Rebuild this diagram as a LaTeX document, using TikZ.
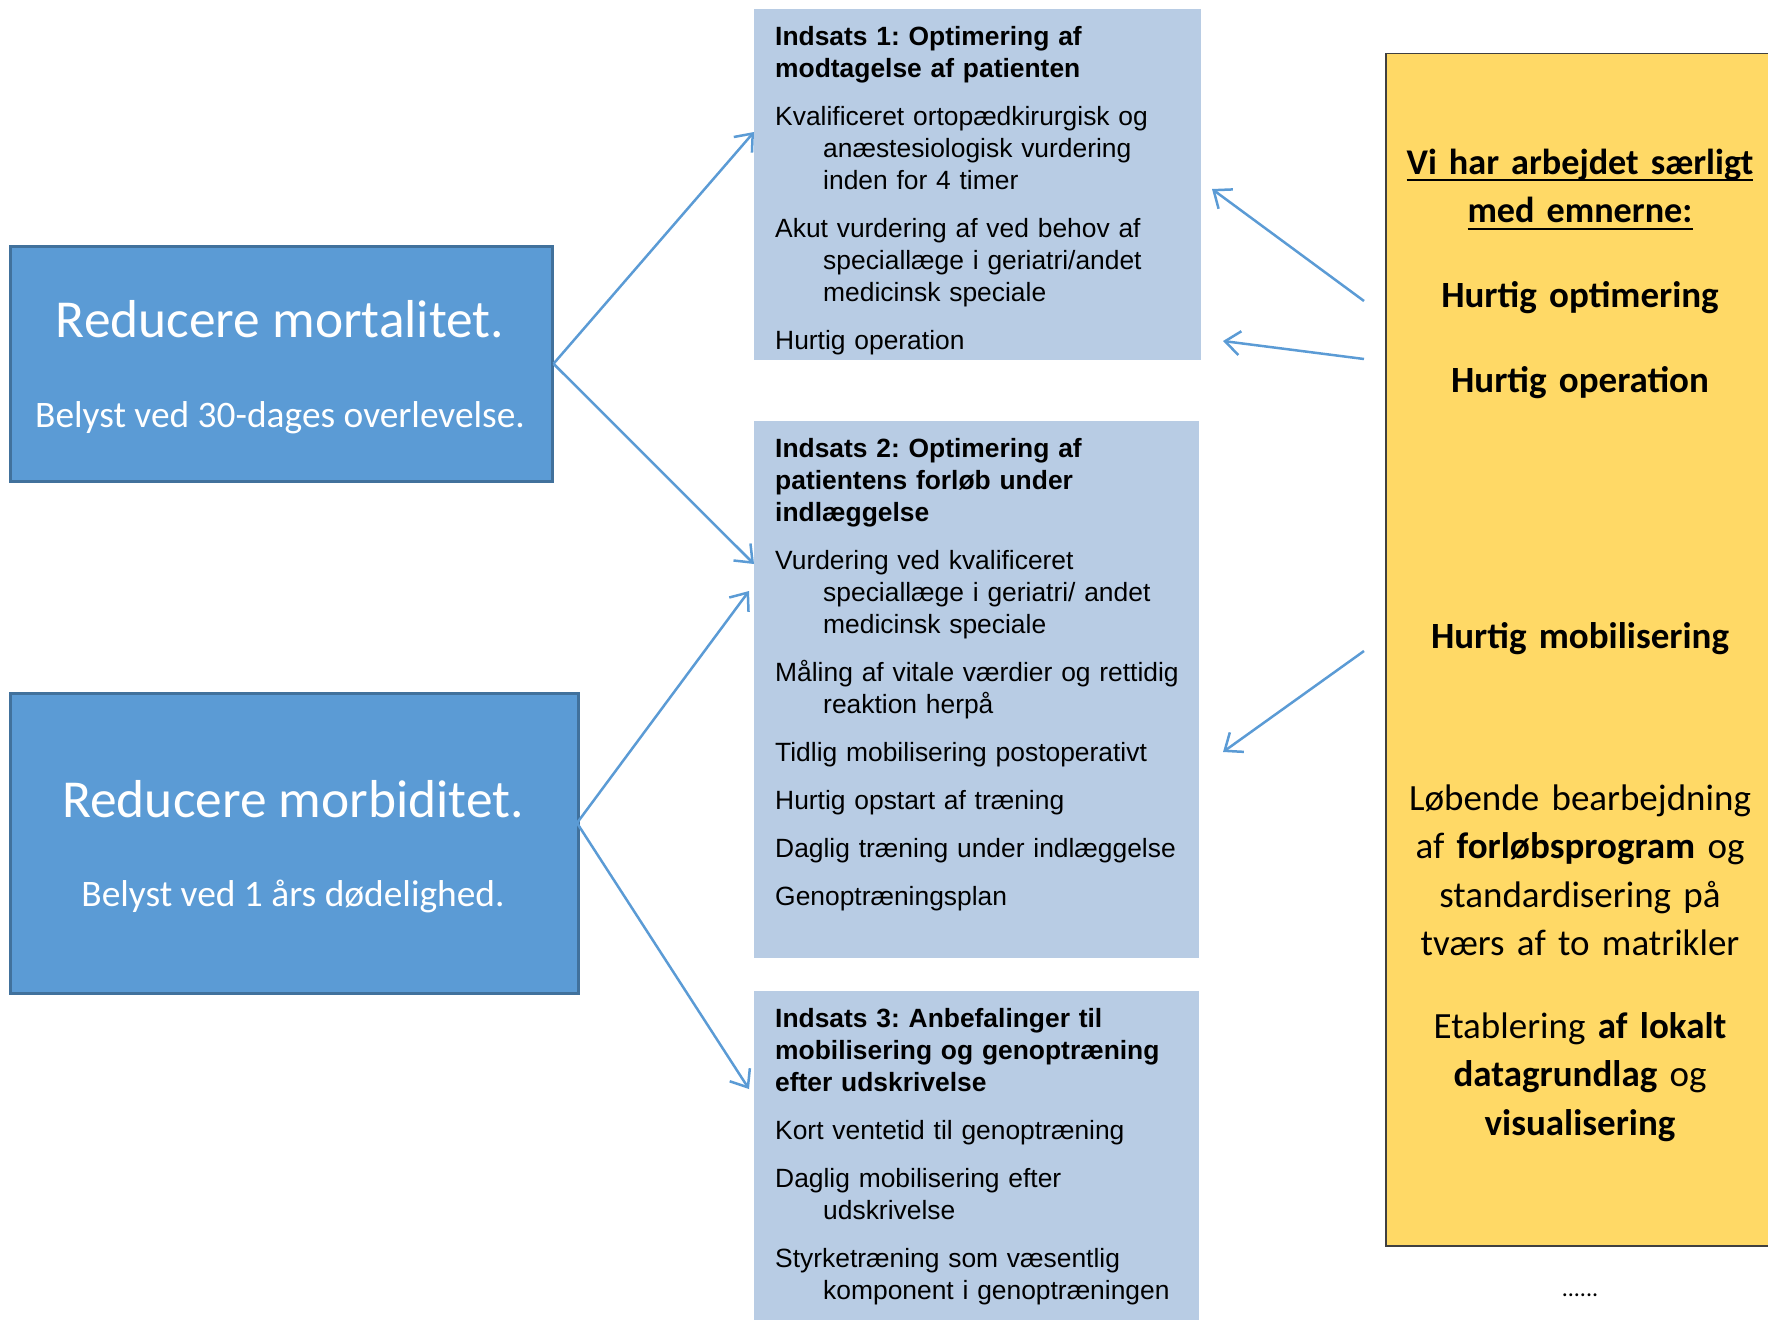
\documentclass[tikz,border=0pt]{standalone}
\usepackage{fontspec}
\setmainfont{Liberation Sans}
\newfontfamily\calibri{Carlito}
\usetikzlibrary{arrows.meta}
\definecolor{maalblaa}{HTML}{5B9BD5}
\definecolor{maalkant}{HTML}{41719C}
\definecolor{lyseblaa}{HTML}{B8CCE4}
\definecolor{gul}{HTML}{FFD966}
\frenchspacing
\newsavebox{\streg}
\newcommand{\understreg}[1]{\leavevmode\sbox{\streg}{#1}\rlap{\rule[-7.4pt]{\wd\streg}{2.4pt}}\usebox{\streg}}
\newcommand{\punkt}{\par\setlength{\parskip}{16pt}\hangindent=48pt\hangafter=1\noindent}

\begin{document}
\begin{tikzpicture}[x=1pt,y=-1pt,
  maal/.style={draw=maalkant,line width=2.5pt,fill=maalblaa},
  indsats/.style={fill=lyseblaa},
  tema/.style={draw=black!75,line width=1.5pt,fill=gul},
  stortekst/.style={text=white,anchor=base,font=\calibri\fontsize{53.4}{62}\selectfont},
  undertekst/.style={text=white,anchor=base,font=\calibri\fontsize{37.4}{44}\selectfont},
  punkter/.style={text width=425pt,anchor=base west,font=\fontsize{26.4}{32}\selectfont},
  gultekst/.style={text width=390pt,align=center,anchor=base,font=\calibri\fontsize{37}{48.5}\selectfont},
  pil/.style={draw=maalblaa,line width=2.5pt,-{Straight Barb[length=15pt,width=24pt]}}]
\tikzstyle{every node}+=[inner sep=0pt]
\useasboundingbox (0,0) rectangle (1768,1319);
\clip (0,0) rectangle (1768,1319);
\node[maal,minimum width=542pt,minimum height=235pt,anchor=north west] (mort) at (9,245) {};
\node[stortekst] (morttitel) at (280,337) {Reducere mortalitet.};
\node[undertekst] (mortmaal) at (280,427) {Belyst ved 30-dages overlevelse.};
\node[maal,minimum width=568pt,minimum height=300pt,anchor=north west] (morb) at (9,692) {};
\node[stortekst] (morbtitel) at (293,817) {Reducere morbiditet.};
\node[undertekst] (morbmaal) at (293,906) {Belyst ved 1 års dødelighed.};
\node[indsats,minimum width=447pt,minimum height=351pt,anchor=north west] (indsats1) at (754,9) {};
\node[indsats,minimum width=445pt,minimum height=537pt,anchor=north west] (indsats2) at (754,421) {};
\node[indsats,minimum width=445pt,minimum height=345pt,anchor=north west] (indsats3) at (754,991) {};
\node[punkter] (tekst1) at (775,45.5) {\textbf{Indsats 1: Optimering af\newline modtagelse af patienten}
\punkt Kvalificeret ortopædkirurgisk og\newline anæstesiologisk vurdering\newline inden for 4 timer
\punkt Akut vurdering af ved behov af\newline speciallæge i geriatri/andet\newline medicinsk speciale
\punkt Hurtig operation\par};
\node[punkter] (tekst2) at (775,457.5) {\textbf{Indsats 2: Optimering af\newline patientens forløb under\newline indlæggelse}
\punkt Vurdering ved kvalificeret\newline speciallæge i geriatri/ andet\newline medicinsk speciale
\punkt Måling af vitale værdier og rettidig\newline reaktion herpå
\punkt Tidlig mobilisering postoperativt
\punkt Hurtig opstart af træning
\punkt Daglig træning under indlæggelse
\punkt Genoptræningsplan\par};
\node[punkter] (tekst3) at (775,1027.5) {\textbf{Indsats 3: Anbefalinger til\newline mobilisering og genoptræning\newline efter udskrivelse}
\punkt Kort ventetid til genoptræning
\punkt Daglig mobilisering efter\newline udskrivelse
\punkt Styrketræning som væsentlig\newline komponent i genoptræningen\par};
\node[tema,minimum width=420pt,minimum height=1192pt,anchor=north west] (tema) at (1385,53) {};
\node[gultekst,font=\calibri\fontsize{36.2}{48.5}\selectfont] (overskrift) at (1580,174) {\bfseries\understreg{Vi har arbejdet særligt}\\\understreg{med emnerne:}};
\node[gultekst] (optimering) at (1580,307) {\bfseries Hurtig optimering};
\node[gultekst] (operation) at (1580,392) {\bfseries Hurtig operation};
\node[gultekst] (mobilisering) at (1580,648) {\bfseries Hurtig mobilisering};
\node[gultekst] (forloeb) at (1580,810) {Løbende bearbejdning\\af \textbf{forløbsprogram} og\\standardisering på\\tværs af to matrikler};
\node[gultekst] (data) at (1580,1038) {Etablering \textbf{af lokalt}\\\textbf{datagrundlag} og\\\textbf{visualisering}};
\node[gultekst,font=\calibri\fontsize{24}{28}\selectfont] (prikker) at (1580,1296) {......};
\coordinate (morbspids) at (577,823);
\coordinate (ind1v) at (754,132);
\coordinate (ind2v) at (754,564);
\coordinate (ind2n) at (749,591);
\coordinate (ind3v) at (749,1089);
\coordinate (fra1) at (1364,301);
\coordinate (til1) at (1212,189);
\coordinate (fra2) at (1364,359);
\coordinate (til2) at (1223,341);
\coordinate (fra3) at (1364,651);
\coordinate (til3) at (1223,752);
\draw[pil] (mort.east) -- (ind1v);
\draw[pil] (mort.east) -- (ind2v);
\draw[pil] (morbspids) -- (ind2n);
\draw[pil] (morbspids) -- (ind3v);
\draw[pil] (fra1) -- (til1);
\draw[pil] (fra2) -- (til2);
\draw[pil] (fra3) -- (til3);
\end{tikzpicture}
\end{document}
